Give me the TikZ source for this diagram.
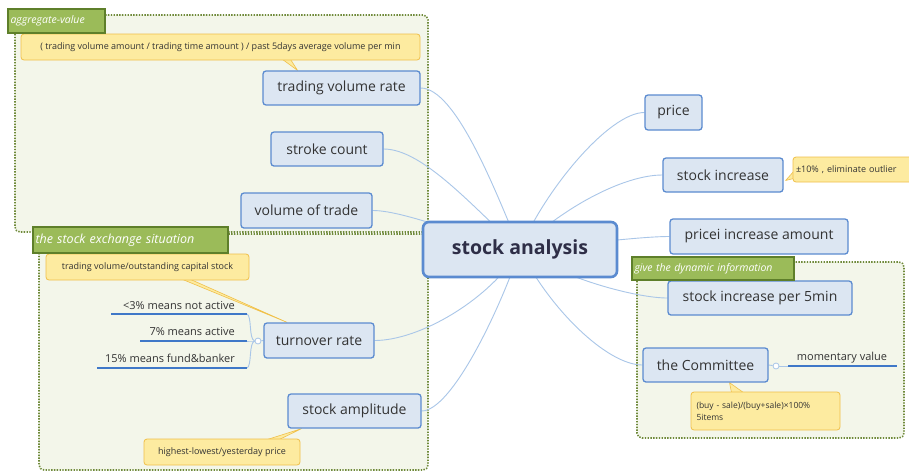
\documentclass[tikz,border=0pt]{standalone}
\usepackage{fontspec}
\setmainfont{Open Sans}
\definecolor{nodefill}{HTML}{DCE6F2}
\definecolor{nodeedge}{HTML}{5B8BD0}
\definecolor{connc}{HTML}{A9C6E8}
\definecolor{grpfill}{HTML}{F3F6EA}
\definecolor{grpedge}{HTML}{6F8A3A}
\definecolor{lblfill}{HTML}{9BBB59}
\definecolor{lbledge}{HTML}{5E7F2A}
\definecolor{notefill}{HTML}{FDEBA0}
\definecolor{noteedge}{HTML}{F0C04A}
\definecolor{branchc}{HTML}{3F78C8}
\definecolor{txt}{HTML}{333333}
\pgfdeclarelayer{bg}
\pgfdeclarelayer{conn}
\pgfsetlayers{bg,conn,main}
\tikzset{
  topic/.style={draw=nodeedge, line width=1.3pt, fill=nodefill, rounded corners=3pt,
    font=\fontsize{14}{16}\selectfont, text=txt, inner sep=0pt},
  central/.style={draw=nodeedge, line width=2.6pt, fill=nodefill, rounded corners=6pt,
    font=\fontsize{19.5}{21}\selectfont\bfseries, text=txt!90!blue, inner sep=0pt},
  note/.style={draw=noteedge, fill=notefill, rounded corners=3pt, line width=0.8pt,
    font=\fontsize{9}{11}\selectfont, text=txt, inner sep=0pt},
  grp/.style={draw=grpedge, fill=grpfill, dash pattern=on 1.4pt off 1.4pt, line width=1.6pt, rounded corners=5pt},
  grplabel/.style={draw=lbledge, fill=lblfill, line width=1.3pt, text=white,
    font=\fontsize{10.5}{12}\selectfont\itshape, inner sep=0pt, align=left},
  conn/.style={draw=connc, line width=0.9pt},
  pointer/.style={fill=notefill, draw=noteedge, line width=0.6pt, line join=round},
  branch/.style={draw=branchc, line width=1.6pt},
  btext/.style={font=\fontsize{11}{13}\selectfont, text=txt, inner sep=0pt},
  knob/.style={circle, draw=connc, fill=white, line width=0.8pt, minimum size=6pt, inner sep=0pt},
}
\begin{document}
\begin{tikzpicture}[x=1pt,y=-1pt]
\useasboundingbox (0,0) rectangle (909,472);
% groups
\begin{pgfonlayer}{bg}
\fill[white] (0,0) rectangle (909,472);
\path[grp] (15,15) rectangle (428,232);
\path[grp] (39,234) rectangle (428,470);
\path[grp] (637,262) rectangle (904,438);
\end{pgfonlayer}
% topics
\node[central, minimum width=194pt, minimum height=55pt] (sa) at (520,249.5) {stock analysis};
\node[topic, minimum width=157pt, minimum height=34pt] (tvr) at (341.5,88) {trading volume rate};
\node[topic, minimum width=112pt, minimum height=34pt] (sc) at (327,149) {stroke count};
\node[topic, minimum width=131pt, minimum height=35pt] (vot) at (306.5,210.5) {volume of trade};
\node[topic, minimum width=110pt, minimum height=35pt] (tr) at (319,340.5) {turnover rate};
\node[topic, minimum width=133pt, minimum height=34pt] (amp) at (354.5,411) {stock amplitude};
\node[topic, minimum width=57pt, minimum height=35pt] (price) at (673.5,112.5) {price};
\node[topic, minimum width=120pt, minimum height=34pt] (si) at (723,175) {stock increase};
\node[topic, minimum width=178pt, minimum height=35pt] (pia) at (759,236.5) {pricei increase amount};
\node[topic, minimum width=184pt, minimum height=34pt] (si5) at (760,298) {stock increase per 5min};
\node[topic, minimum width=125pt, minimum height=34pt] (com) at (705.5,365) {the Committee};
% notes
\node[note, minimum width=399pt, minimum height=26pt] (n1) at (220.5,47) {( trading volume amount / trading time amount ) / past 5days average volume per min};
\node[note, minimum width=122pt, minimum height=25pt, text width=116pt, align=left] (n2) at (854,169.5) {±10\% , eliminate outlier};
\node[note, minimum width=149pt, minimum height=38pt, text width=138pt, align=left, font=\fontsize{8.5}{12}\selectfont] (n3) at (765.5,411) {(buy - sale)/(buy+sale)×100\%\\5items};
\node[note, minimum width=203pt, minimum height=26pt] (n4) at (147.5,267) {trading volume/outstanding capital stock};
\node[note, minimum width=156pt, minimum height=26pt] (n5) at (222,452) {highest-lowest/yesterday price};
% group labels
\node[grplabel, minimum width=97pt, minimum height=24pt, text width=92pt] (l1) at (56.5,21) {aggregate-value};
\node[grplabel, minimum width=195pt, minimum height=26pt, text width=190pt, font=\fontsize{12.5}{14}\selectfont\itshape] (l2) at (130.5,240) {the stock exchange situation};
\node[grplabel, minimum width=162pt, minimum height=23pt, text width=157pt] (l3) at (713,268.5) {give the dynamic information};
% branches of turnover rate
\node[knob] (k1) at (258,341) {};
\coordinate (b1s) at (111,314); \coordinate (b1e) at (247,314);
\coordinate (b2s) at (140,341); \coordinate (b2e) at (247,341);
\coordinate (b3s) at (97,368);  \coordinate (b3e) at (247,368);
\node[btext, anchor=base east] (t1) at (235,309) {<3\% means not active};
\node[btext, anchor=base east] (t2) at (235,335) {7\% means active};
\node[btext, anchor=base east] (t3) at (235,362) {15\% means fund\&banker};
\draw[branch] (b1s) -- (b1e);
\draw[branch] (b2s) -- (b2e);
\draw[branch] (b3s) -- (b3e);
% momentary value
\node[knob] (k2) at (776,366) {};
\coordinate (m1s) at (788,366); \coordinate (m1e) at (897,366);
\node[btext, anchor=base] (t4) at (842,360) {momentary value};
\draw[branch] (m1s) -- (m1e);
\begin{pgfonlayer}{conn}
% connectors
\draw[conn] (tvr.east) .. controls +(35,0) and +(-25,-60) .. (sa.center);
\draw[conn] (sc.east) .. controls +(40,0) and +(-45,-40) .. (sa.center);
\draw[conn] (vot.east) .. controls +(30,0) and +(-60,-15) .. (sa.center);
\draw[conn] (tr.east) .. controls +(45,0) and +(-30,50) .. (sa.center);
\draw[conn] (amp.east) .. controls +(30,0) and +(-20,60) .. (sa.center);
\draw[conn] (price.west) .. controls +(-35,0) and +(25,-60) .. (sa.center);
\draw[conn] (si.west) .. controls +(-40,0) and +(40,-40) .. (sa.center);
\draw[conn] (pia.west) .. controls +(-30,0) and +(60,-5) .. (sa.center);
\draw[conn] (si5.west) .. controls +(-30,0) and +(45,30) .. (sa.center);
\draw[conn] (com.west) .. controls +(-35,0) and +(30,60) .. (sa.center);
\draw[conn] (k1) -- (tr.west);
\draw[conn] (k1.west) .. controls +(-6,0) and +(6,0) .. (b2e);
\draw[conn] (k1.west) .. controls +(-6,-2) and +(5,2) .. (b1e);
\draw[conn] (k1.west) .. controls +(-6,2) and +(5,-2) .. (b3e);
\draw[conn] (com.east) -- (k2);
\draw[conn] (k2) -- (m1s);
% note pointers
\draw[pointer] ([xshift=62pt,yshift=1pt]n1.south) -- ([xshift=-44pt]tvr.north) -- ([xshift=70pt,yshift=1pt]n1.south) -- cycle;
\draw[pointer] ([xshift=1pt,yshift=-2pt]n2.west) -- ([xshift=-7pt,yshift=-11pt]n2.west) -- ([xshift=1pt,yshift=-9pt]n2.west) -- cycle;
\draw[pointer] ([xshift=-34pt,yshift=-1pt]n3.north) -- ([xshift=24pt]com.south) -- ([xshift=-22pt,yshift=-1pt]n3.north) -- cycle;
\draw[pointer] ([xshift=35pt,yshift=1pt]n4.south) -- ([xshift=-32pt]tr.north) -- ([xshift=43pt,yshift=1pt]n4.south) -- cycle;
\draw[pointer] ([xshift=45pt,yshift=-1pt]n5.north) -- ([xshift=-53pt]amp.south) -- ([xshift=57pt,yshift=-1pt]n5.north) -- cycle;
\end{pgfonlayer}
\end{tikzpicture}
\end{document}
